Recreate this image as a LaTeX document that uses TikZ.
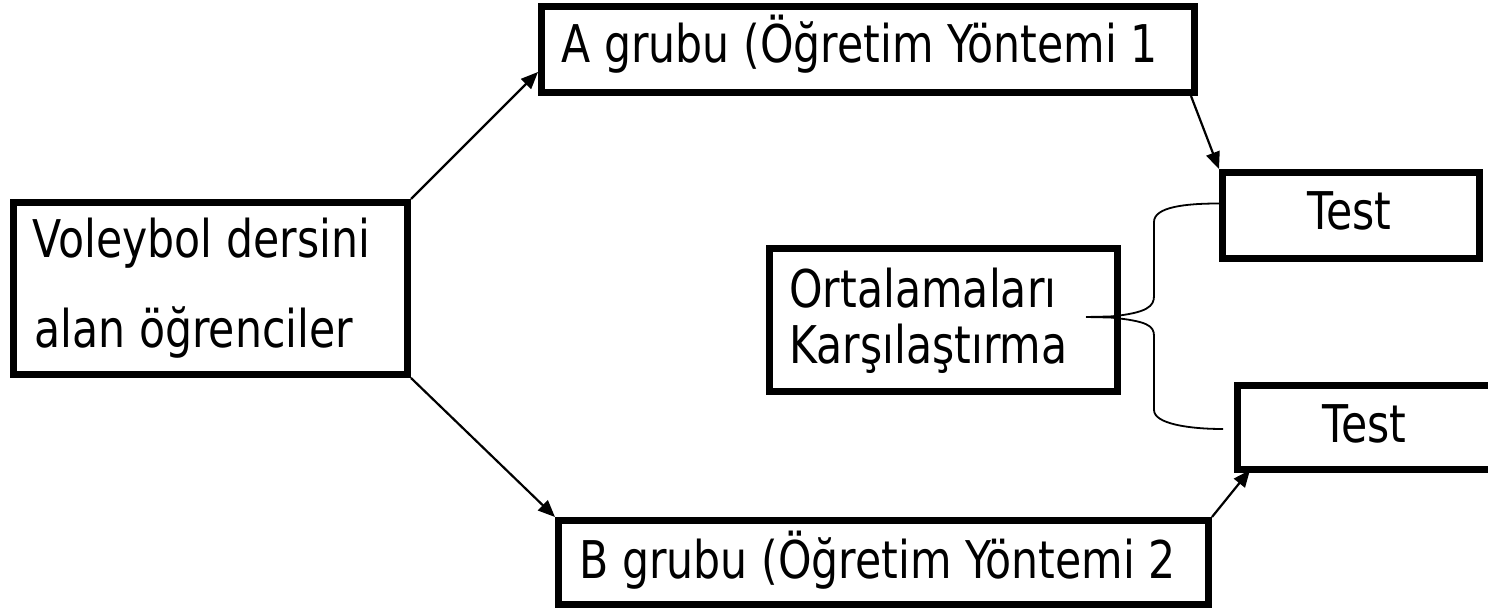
\documentclass[tikz,border=0pt]{standalone}
\usepackage{fontspec}
\setmainfont{DejaVu Sans}[FakeStretch=0.82]
\usetikzlibrary{arrows.meta,calc}
\begin{document}
\begin{tikzpicture}[x=0.5pt,y=-0.5pt,
  box/.style={draw=black,line width=3.5pt,inner sep=0pt,fill=white},
  lbl/.style={anchor=base west,inner sep=0pt,font=\fontsize{26pt}{30pt}\selectfont},
  conn/.style={line width=1.1pt,-{Triangle[length=8.5pt,width=7pt]}},
  brc/.style={line width=0.9pt}]
\useasboundingbox (0,0) rectangle (1488,609);
\clip (0,0) rectangle (1488,609);
% boxes
\node[box,minimum width=197pt,minimum height=86pt] (L) at (210.5,288.5) {};
\node[box,minimum width=326.5pt,minimum height=43pt] (A) at (868,49.5) {};
\node[box,minimum width=128.5pt,minimum height=43pt] (T1) at (1351,215.5) {};
\node[box,minimum width=131.25pt,minimum height=42pt] (T2) at (1368.75,427.5) {};
\node[box,minimum width=325pt,minimum height=42pt] (B) at (883.5,562.5) {};
\node[box,minimum width=174pt,minimum height=71.5pt] (O) at (943.5,320) {};
% texts
\node[lbl] (Lt1) at (32,257) {Voleybol dersini};
\node[lbl] (Lt2) at (34,347) {alan öğrenciler};
\node[lbl] (At) at (561,63) {A grubu (Öğretim Yöntemi 1};
\node[lbl] (Bt) at (579,578) {B grubu (Öğretim Yöntemi 2};
\node[lbl] (Ot1) at (789,307) {Ortalamaları};
\node[lbl] (Ot2) at (789,363) {Karşılaştırma};
\node[lbl] (T1t) at (1307,230) {Test};
\node[lbl] (T2t) at (1322,442) {Test};
% connectors
\draw[conn] (L.north east) -- ([yshift=-11.25pt]A.west);
\draw[conn] (L.south east) -- (B.north west);
\draw[conn] ([xshift=-3.5pt]A.south east) -- (T1.north west);
\draw[conn] (B.north east) -- ([xshift=8pt,yshift=1.5pt]T2.south west);
% brace
\coordinate (tip) at (1086,317);
\coordinate (bt) at ([yshift=6pt]T1.west);
\coordinate (bb) at ([xshift=-5.5pt,yshift=-0.75pt]T2.west);
\draw[brc] (tip) -- (1110,316.5) .. controls (1148,313) and (1154,306) .. (1154,296)
  -- (1154,222) .. controls (1154,207) and (1185,203.5) .. (bt);
\draw[brc] (tip) -- (1110,317.5) .. controls (1148,321) and (1154,326) .. (1154,336)
  -- (1154,410) .. controls (1154,424) and (1190,429) .. (bb);
\end{tikzpicture}
\end{document}
